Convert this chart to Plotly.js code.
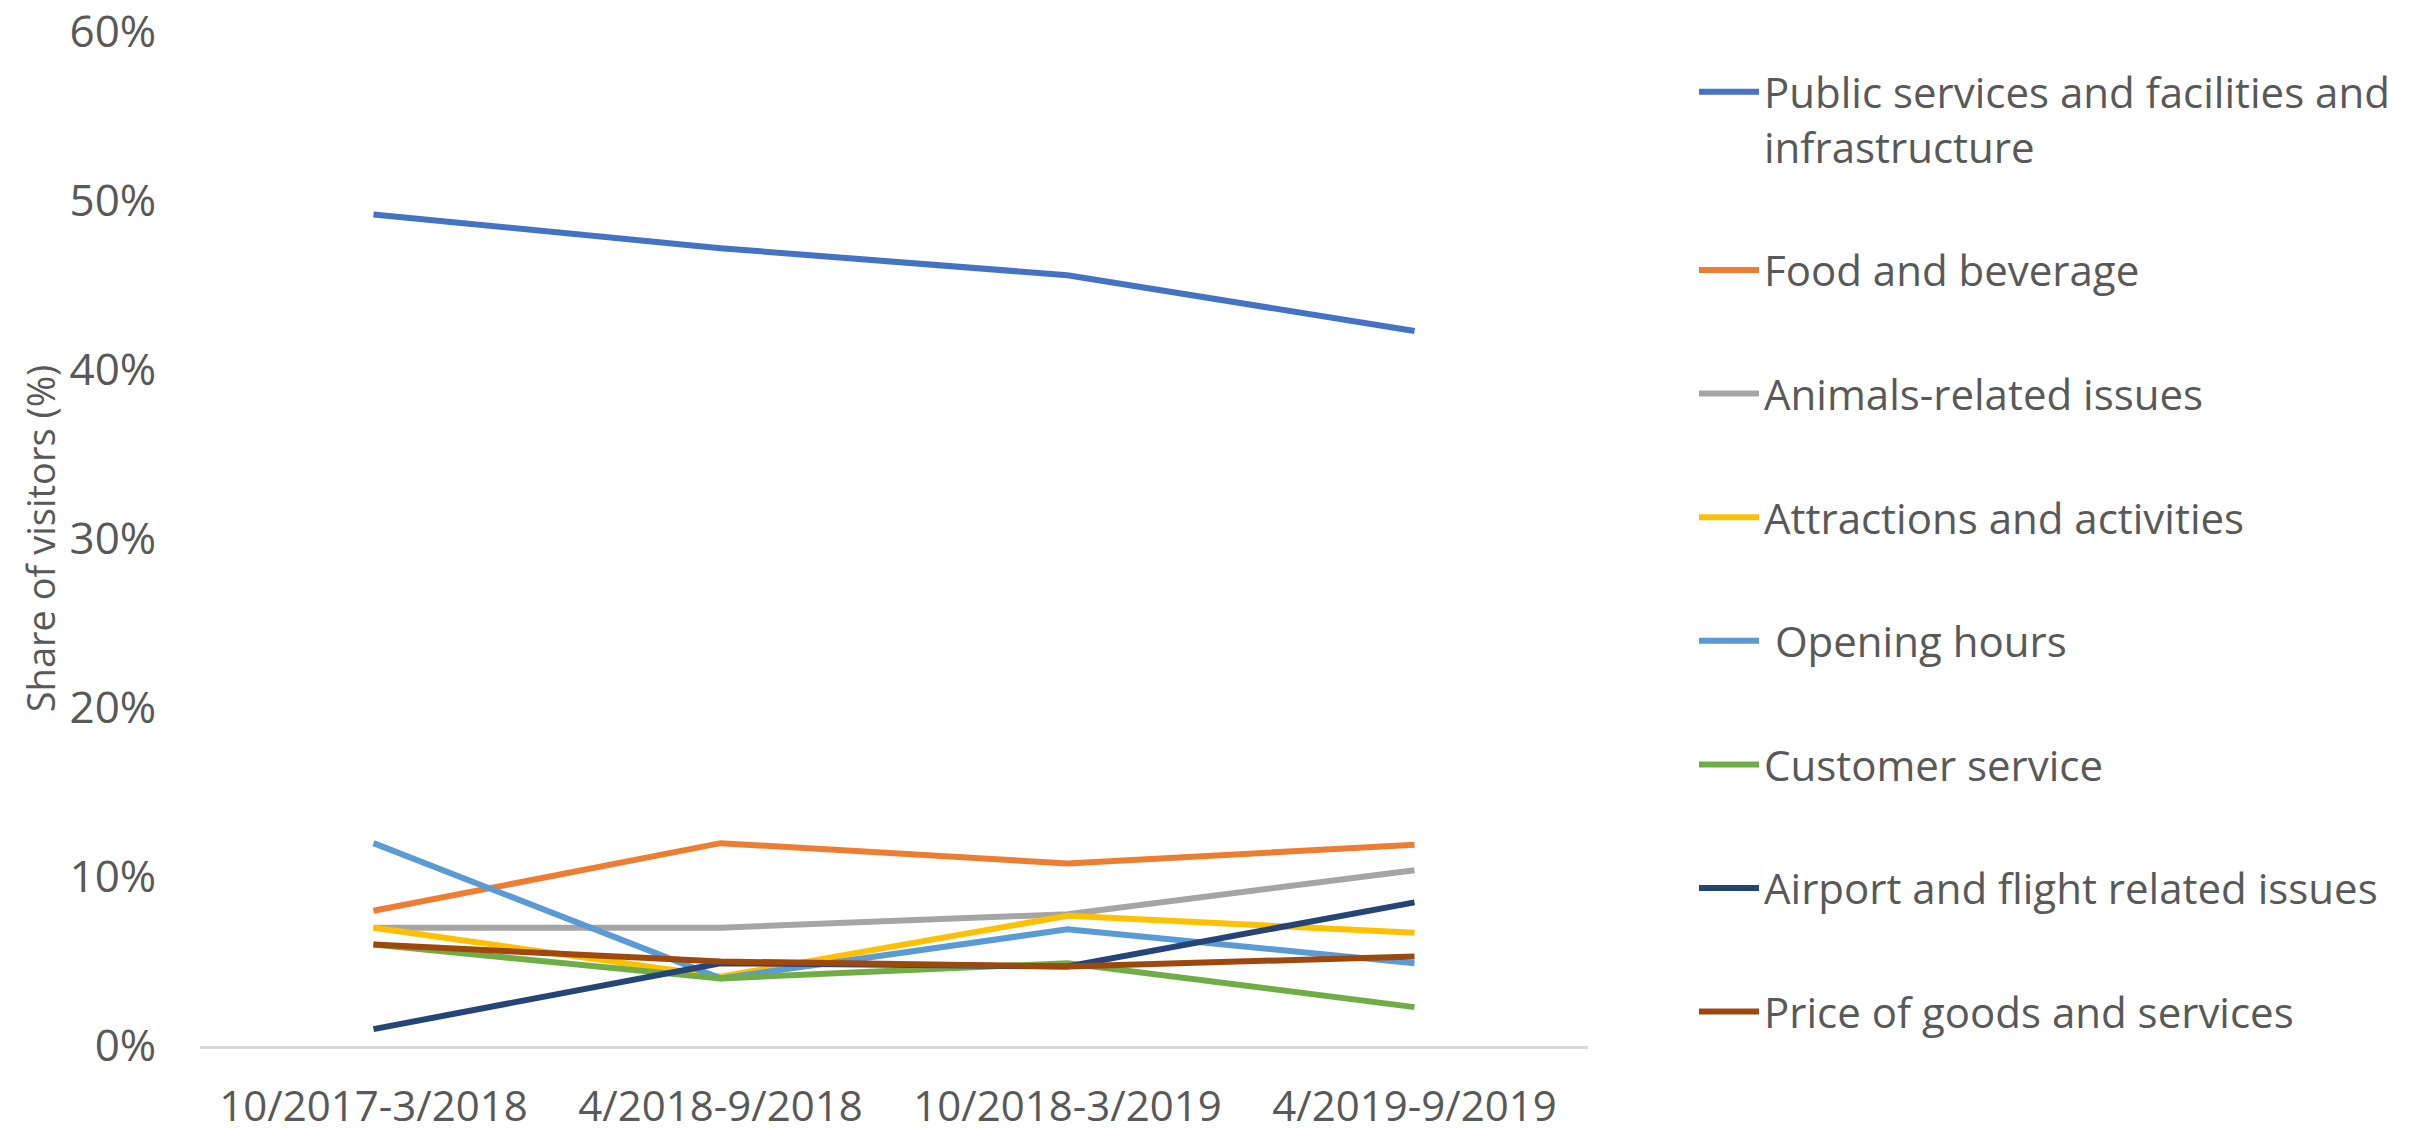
<!DOCTYPE html>
<html>
<head>
<meta charset="utf-8">
<script src="https://cdn.plot.ly/plotly-3.0.1.min.js"></script>
<style>html,body{margin:0;padding:0;background:#fff;}#chart{width:2413px;height:1132px;}</style>
</head>
<body>
<div id="chart"></div>
<script>
const periods = ["10/2017-3/2018", "4/2018-9/2018", "10/2018-3/2019", "4/2019-9/2019"];

const seriesNames = [
  "Public services and facilities and<br>infrastructure",
  "Food and beverage",
  "Animals-related issues",
  "Attractions and activities",
  "\u00a0Opening hours",
  "Customer service",
  "Airport and flight related issues",
  "Price of goods and services"
];

const publicServices = [49.2, 47.2, 45.6, 42.3];
const foodBeverage   = [8.0, 12.0, 10.8, 11.9];
const animalsIssues  = [7.0, 7.0, 7.8, 10.4];
const attractions    = [7.0, 4.1, 7.7, 6.7];
const openingHours   = [12.0, 4.0, 6.9, 4.9];
const customerService= [6.0, 4.0, 4.9, 2.3];
const airportFlight  = [1.0, 4.9, 4.7, 8.5];
const priceGoods     = [6.0, 5.0, 4.7, 5.3];

const seriesValues = [publicServices, foodBeverage, animalsIssues, attractions, openingHours, customerService, airportFlight, priceGoods];
const seriesColors = ["#4472C4", "#ED7D31", "#A5A5A5", "#FFC000", "#5B9BD5", "#70AD47", "#264478", "#9E480E"];

const yTickVals = [0, 10, 20, 30, 40, 50, 60];
const yTickText = yTickVals.map(v => v + "%");

const traces = seriesValues.map((vals, i) => ({
  type: "scatter",
  mode: "lines",
  x: periods,
  y: vals,
  name: seriesNames[i],
  legendgroup: "g" + i,
  line: {color: seriesColors[i], width: 6},
  hoverinfo: "x+y+name"
}));

const textColor = "#595959";

const layout = {
  width: 2413,
  height: 1132,
  paper_bgcolor: "#ffffff",
  plot_bgcolor: "#ffffff",
  margin: {l: 200, r: 825, t: 31, b: 86},
  showlegend: true,
  xaxis: {
    type: "category",
    range: [-0.5, 3.5],
    showgrid: false,
    zeroline: false,
    showline: true,
    linecolor: "#D9D9D9",
    linewidth: 3,
    ticks: "outside",
    ticklen: 22,
    tickcolor: "rgba(0,0,0,0)",
    tickfont: {family: "Open Sans", size: 42, color: textColor},
    fixedrange: true
  },
  yaxis: {
    range: [0, 60.05],
    tickvals: yTickVals,
    ticktext: yTickText,
    ticklabeloverflow: "allow",
    showgrid: false,
    zeroline: false,
    showline: false,
    ticks: "outside",
    ticklen: 34,
    tickcolor: "rgba(0,0,0,0)",
    tickfont: {family: "Open Sans", size: 44, color: textColor},
    title: {text: "Share of visitors (%)", font: {family: "Open Sans", size: 38, color: textColor}, standoff: 2},
    fixedrange: true
  },
  legend: {
    xref: "container",
    yref: "container",
    x: 1694 / 2413,
    y: 1 - 58 / 1132,
    xanchor: "left",
    yanchor: "top",
    maxheight: 1,
    traceorder: "grouped",
    tracegroupgap: 66,
    itemwidth: 60,
    valign: "top",
    font: {family: "Open Sans", size: 42, color: textColor},
    bgcolor: "rgba(0,0,0,0)"
  }
};

Plotly.newPlot("chart", traces, layout, {displayModeBar: false, staticPlot: true});
</script>
</body>
</html>
